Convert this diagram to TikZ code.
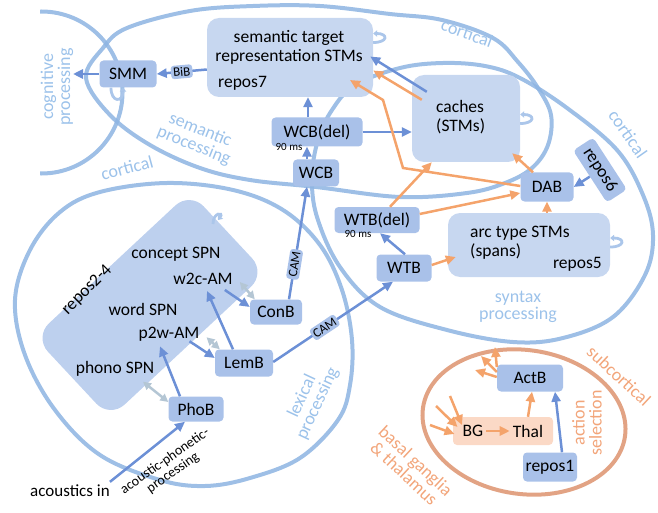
\documentclass[tikz,border=0pt]{standalone}
\usepackage{fontspec}
\setmainfont{Carlito}
\usetikzlibrary{arrows.meta,calc}
\definecolor{regc}{HTML}{8DB4E2}
\definecolor{lblc}{HTML}{9CC2EA}
\definecolor{dboxc}{HTML}{A9C1E9}
\definecolor{lboxc}{HTML}{C7D7F0}
\definecolor{repc}{HTML}{BDD0EE}
\definecolor{arrb}{HTML}{6C90D6}
\definecolor{arro}{HTML}{F4A36B}
\definecolor{arrg}{HTML}{B4C6D4}
\definecolor{subc}{HTML}{E2A384}
\definecolor{bgfill}{HTML}{FBD9C6}
\definecolor{olbl}{HTML}{F2A57A}
\definecolor{loopcol}{HTML}{ABC6EA}
\begin{document}
\begin{tikzpicture}[x=1pt,y=-1pt,
  region/.style={draw=regc,line width=4pt,draw opacity=0.85},
  dbox/.style={fill=dboxc,rounded corners=4pt,inner sep=0pt,font=\fontsize{17.5}{19}\selectfont},
  lbox/.style={fill=lboxc,rounded corners=12pt,inner sep=0pt},
  txt/.style={inner sep=0pt,font=\fontsize{17.5}{19}\selectfont},
  small/.style={inner sep=0pt,font=\fontsize{11}{12}\selectfont},
  tag/.style={fill=dboxc,rounded corners=3pt,inner sep=2.2pt,font=\fontsize{13}{13}\selectfont},
  rlabel/.style={text=lblc,inner sep=0pt,align=center,font=\fontsize{18}{17}\selectfont},
  olabel/.style={text=olbl,inner sep=0pt,align=center,font=\fontsize{18}{17}\selectfont},
  barrow/.style={draw=arrb,line width=2.5pt,-{Triangle[length=10pt,width=9pt]}},
  oarrow/.style={draw=arro,line width=2.5pt,-{Triangle[length=10pt,width=9pt]}},
  garrow/.style={draw=arrg,line width=2.5pt,{Triangle[length=8pt,width=8pt]}-{Triangle[length=8pt,width=8pt]}},
  loopst/.style={draw=loopcol,line width=2.8pt,-{Triangle[length=4pt,width=6.5pt]}}
]
\useasboundingbox (0,0) rectangle (658,513);

% ---------- region outlines ----------
\begin{scope}
  \clip (40,0) rectangle (200,200);
  \draw[region] (41.5,92.5) circle[radius=81pt];
\end{scope}
\draw[region] plot[smooth cycle,tension=0.6] coordinates {(86,78) (103,48) (127,28) (190,11) (253,6) (320,6) (390,14) (442,20) (493,38) (518,62) (538,88) (551,115) (548,145) (532,168) (505,183) (467,193) (400,197) (316,187) (250,180) (200,168) (150,145) (110,115)};
\draw[region] plot[smooth cycle,tension=0.6] coordinates {(355,85) (400,68) (443,63) (485,66) (520,78) (567,108) (617,150) (643,195) (653,235) (645,275) (613,317) (563,338) (513,342) (447,330) (380,307) (340,267) (317,217) (312,177) (318,140) (332,110)};
\draw[region] plot[smooth cycle,tension=0.6] coordinates {(15,300) (30,250) (60,212) (100,192) (167,183) (233,190) (283,210) (320,245) (342,290) (352,340) (350,385) (338,420) (300,458) (250,478) (205,486) (160,480) (100,455) (55,410) (25,355)};
\draw[draw=subc,line width=4pt,rotate around={-8:(524,422)}] (524,422) ellipse[x radius=102pt,y radius=72pt];

% ---------- region labels ----------
\node[rlabel,rotate=90] (lcog) at (57,87) {cognitive\\processing};
\node[rlabel,rotate=-22] (lsem) at (197,138) {semantic\\processing};
\node[rlabel,rotate=15] (lcort1) at (127,168) {cortical};
\node[rlabel,rotate=-20] (lcort2) at (467,33) {cortical};
\node[rlabel,rotate=-55] (lcort3) at (628,134) {cortical};
\node[rlabel] (lsyn) at (518,307) {syntax\\processing};
\node[rlabel,rotate=65] (llex) at (310,400) {lexical\\processing};
\node[olabel,rotate=-43] (lsub) at (619,376) {subcortical};
\node[olabel,rotate=90] (lact) at (587,423) {action\\selection};
\node[olabel,rotate=-43] (lbg) at (410,467) {basal ganglia\\\& thalamus};

% ---------- light boxes ----------
\node[lbox,minimum width=166pt,minimum height=79pt] (sem) at (290,57.5) {};
\node[lbox,minimum width=108pt,minimum height=87pt] (caches) at (466,118.5) {};
\node[lbox,minimum width=162pt,minimum height=64pt] (arc) at (529,245) {};
\node[fill=repc,rounded corners=20pt,inner sep=0pt,rotate=43,minimum width=213pt,minimum height=111pt] (rep) at (150,305) {};
\node[fill=bgfill,rounded corners=4pt,inner sep=0pt,minimum width=100pt,minimum height=28pt] (bgbox) at (503,431) {};

% ---------- self loops ----------
\draw[loopst] ([yshift=15pt]sem.east) .. controls +(15,0) and +(15,0) .. ([yshift=24pt]sem.east);
\draw[loopst] ([yshift=-5pt]caches.east) .. controls +(15,0) and +(15,0) .. ([yshift=4pt]caches.east);
\draw[loopst] ([yshift=-2pt]arc.east) .. controls +(15,0) and +(15,0) .. ([yshift=7pt]arc.east);

% ---------- dark boxes ----------
\node[dbox,minimum width=57pt,minimum height=27pt] (smm) at (128,74) {SMM};
\draw[loopst] ([xshift=-17pt]smm.south) .. controls +(0,15) and +(0,15) .. ([xshift=-5pt]smm.south);
\node[dbox,minimum width=91pt,minimum height=29pt] (wcbd) at (317,132) {WCB(del)};
\node[dbox,minimum width=46pt,minimum height=27pt] (wcb) at (316,173) {WCB};
\node[dbox,minimum width=53pt,minimum height=29pt] (dab) at (547,187) {DAB};
\node[dbox,rotate=-57,minimum width=62pt,minimum height=24pt] (r6) at (600,170) {repos6};
\node[dbox,minimum width=85pt,minimum height=26pt] (wtbd) at (377,220) {WTB(del)};
\node[dbox,minimum width=55pt,minimum height=27pt] (wtb) at (404,268) {WTB};
\node[dbox,minimum width=52pt,minimum height=25pt] (conb) at (276,312) {ConB};
\node[dbox,minimum width=58pt,minimum height=27pt] (lemb) at (244,363) {LemB};
\node[dbox,minimum width=55pt,minimum height=25pt] (phob) at (196,409) {PhoB};
\node[dbox,minimum width=66pt,minimum height=27pt] (actb) at (530,378) {ActB};
\node[dbox,minimum width=54pt,minimum height=29pt] (rep1) at (550,467) {repos1};

% ---------- texts inside light boxes ----------
\node[txt,align=center] (semt) at (289,47) {semantic target\\representation STMs};
\node[txt,anchor=west] (r7) at (218,83) {repos7};
\node[txt,align=left,anchor=west] (cachest) at (436,117) {caches\\(STMs)};
\node[txt,align=left,anchor=west] (arct) at (470,243) {arc type STMs\\(spans)};
\node[txt,anchor=east] (r5) at (602,264) {repos5};
\node[small] (ms1) at (289,147) {90 ms};
\node[small] (ms2) at (358,234) {90 ms};
\node[txt] (concept) at (176,254) {concept SPN};
\node[txt] (w2c) at (203,279) {w2c-AM};
\node[txt] (word) at (143,309) {word SPN};
\node[txt] (p2w) at (169,334) {p2w-AM};
\node[txt] (phono) at (115,369) {phono SPN};
\node[txt,rotate=45] (r24) at (87,290) {repos2-4};
\draw[loopst] (213,224) .. controls (213,212) and (224,212) .. (218,220);
\node[txt] (bgt) at (473,431) {BG};
\node[txt] (thal) at (528,431) {Thal};
\node[inner sep=0pt,font=\fontsize{17}{19}\selectfont] (acin) at (70,491) {acoustics in};
\node[inner sep=0pt,align=center,rotate=35,font=\fontsize{14}{14}\selectfont] (apt) at (169,467) {acoustic-phonetic-\\processing};

% ---------- coordinates ----------
\coordinate (cogin) at (73,74);
\coordinate (bend1) at (403,168);
\coordinate (bend2) at (383,100);
\coordinate (semin) at (350,80);
\coordinate (in1) at (430,425);
\coordinate (in2) at (436,406);
\coordinate (in3) at (450,396);
\coordinate (out1) at (475,370);
\coordinate (out2) at (481,356);
\coordinate (out3) at (495,347);

% ---------- blue arrows ----------
\draw[barrow] (smm.west) -- (cogin);
\draw[barrow] ([yshift=-12pt]sem.west) -- node[tag,sloped] (bib) {BiB} (smm.east);
\draw[barrow] ([xshift=-9pt]wcbd.north) -- ([xshift=18pt]sem.south);
\draw[barrow] ([xshift=-9pt]wcb.north) -- ([xshift=-10pt]wcbd.south);
\draw[barrow] (wcbd.east) -- (wcbd.east -| caches.west);
\draw[barrow] ([xshift=15pt,yshift=-17pt]caches.north west) -- ([xshift=-3pt,yshift=1pt]sem.east);
\draw[barrow] (r6.south) -- (dab.east);
\draw[barrow] ([xshift=13pt]conb.north) -- node[tag,sloped,pos=0.31] (cam1) {CAM} ([xshift=-9pt]wcb.south);
\draw[barrow] ([yshift=1pt]lemb.east) -- node[tag,sloped,pos=0.43] (cam2) {CAM} ([xshift=-11pt]wtb.south);
\draw[barrow] ([xshift=1pt]wtb.north) -- ([xshift=3pt]wtbd.south);
\draw[barrow] ([xshift=-8pt,yshift=-5pt]w2c.south east) -- ([yshift=5pt]conb.west);
\draw[barrow] ([xshift=-11pt]lemb.north) -- ([xshift=4pt,yshift=-6pt]w2c.south);
\draw[barrow] ([xshift=-10pt]p2w.south east) -- ([yshift=5pt]lemb.west);
\draw[barrow] ([xshift=-16pt]phob.north) -- ([xshift=-9pt,yshift=-5pt]p2w.south);
\draw[barrow] ([yshift=3pt]acin.north east) -- ([xshift=-11pt]phob.south);
\draw[barrow] ([xshift=12pt]rep1.north) -- ([xshift=25pt]actb.south);

% ---------- gray double arrows ----------
\draw[garrow] ([xshift=7pt,yshift=-3pt]w2c.east) -- ([xshift=5pt]conb.north west);
\draw[garrow] ([xshift=7pt,yshift=4pt]p2w.south east) -- ([xshift=5pt]lemb.north west);
\draw[garrow] ([xshift=28pt,yshift=-5pt]phono.south) -- ([yshift=7pt]phob.west);

% ---------- orange arrows ----------
\draw[oarrow] ([xshift=10pt,yshift=-25pt]caches.north west) -- ([yshift=-13pt]sem.east);
\draw[oarrow] ([yshift=1pt]dab.west) -- (bend1) -- (bend2) -- (semin);
\draw[oarrow] ([xshift=-14pt]dab.north) -- ([xshift=-8pt,yshift=9pt]caches.south east);
\draw[oarrow] ([xshift=13pt]wtbd.north) -- ([xshift=20pt]caches.south west);
\draw[oarrow] ([yshift=6pt]wtbd.east) -- ([yshift=-6pt]dab.west);
\draw[oarrow] (dab.south |- arc.north) -- (dab.south);
\draw[oarrow] ([yshift=3pt]wtb.east) -- ([xshift=8pt,yshift=-12pt]arc.west);
\draw[oarrow] ([xshift=3pt]bgt.east) -- ([xshift=-3pt]thal.west);
\draw[oarrow] ([xshift=25pt]bgbox.north) -- ([xshift=2pt]actb.south);
\draw[oarrow] (in1) -- ([xshift=-8pt,yshift=-3pt]bgt.west);
\draw[oarrow] (in2) -- ([xshift=-5pt,yshift=4pt]bgt.west);
\draw[oarrow] (in3) -- ([xshift=-11pt]bgt.north);
\draw[oarrow] ([yshift=1pt]actb.west) -- (out1);
\draw[oarrow] ([yshift=6pt]actb.west) -- (out2);
\draw[oarrow] ([yshift=11pt]actb.west) -- (out3);
\end{tikzpicture}
\end{document}
